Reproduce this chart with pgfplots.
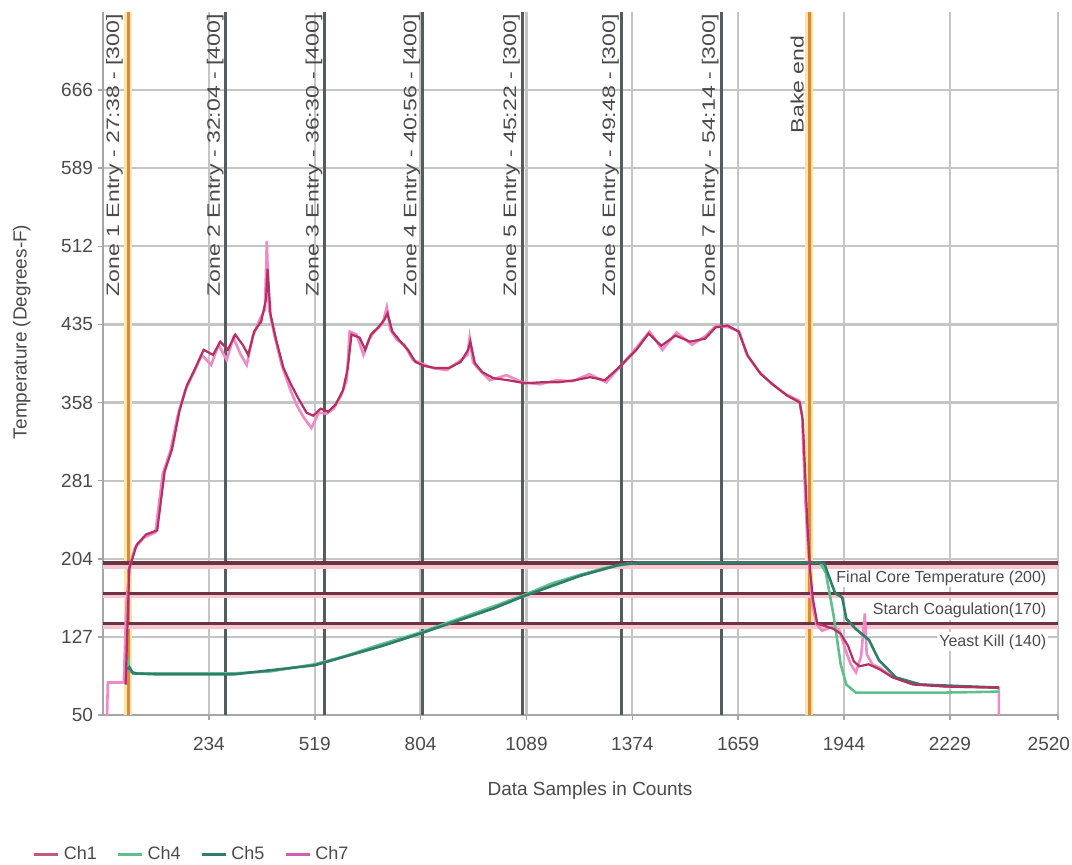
\documentclass[border=0pt]{standalone}
\usepackage{pgfplots}
\pgfplotsset{compat=1.18}
\usepackage{fontspec}
\setmainfont{Liberation Sans}
\definecolor{txt}{HTML}{4A4A4A}
\definecolor{gridc}{HTML}{C4C6C6}
\definecolor{zonec}{HTML}{545D5D}
\definecolor{orangec}{HTML}{DB8A3C}
\definecolor{glowc}{HTML}{FDE5A6}
\definecolor{threshc}{HTML}{6E3343}
\definecolor{threshglow}{HTML}{F6C7CF}
\definecolor{chone}{HTML}{B52F60}
\definecolor{chfour}{HTML}{5FC08C}
\definecolor{chfive}{HTML}{2F7D6A}
\definecolor{chseven}{HTML}{EE8AC6}
\newcommand{\zl}[1]{\scalebox{1.28}[1]{#1}}
\begin{document}
\begin{tikzpicture}
\useasboundingbox (-51.5pt,-75pt) rectangle (484.5pt,357.5pt);
\begin{axis}[
  at={(0pt,0pt)}, anchor=south west,
  scale only axis, width=477.5pt, height=351.5pt,
  xmin=-51, xmax=2520, ymin=50, ymax=743,
  xtick={234,519,804,1089,1374,1659,1944,2229,2520},
  xticklabels={234,519,804,1089,1374,1659,1944,2229,{\makebox[0pt][r]{2520\kern-6pt}}},
  ytick={50,127,204,281,358,435,512,589,666},
  grid=major, grid style={gridc, line width=1.1pt},
  axis x line*=bottom, axis y line*=left,
  axis line style={gray!70, line width=1.2pt, -},
  tick style={gray!70, line width=0.8pt},
  tick align=outside, major tick length=2.5pt,
  ticklabel style={font=\fontsize{9.5}{11}\selectfont, text=txt},
  /pgf/number format/assume math mode=true,
  /pgf/number format/.cd, fixed, 1000 sep={}, /pgfplots/.cd,
  xticklabel style={yshift=-5pt},
  yticklabel style={xshift=1pt},
  xlabel={Data Samples in Counts},
  ylabel={Temperature (Degrees-F)},
  label style={font=\fontsize{9.5}{11}\selectfont, text=txt},
  xlabel style={at={(axis description cs:0.51,-0.107)}, anchor=center},
  ylabel style={at={(axis description cs:-0.085,0.545)}, anchor=center, rotate=0},
  legend style={at={(axis description cs:-0.08,-0.199)}, anchor=west, draw=none, fill=none,
    font=\fontsize{9}{10}\selectfont, text=txt, legend columns=4,
    /tikz/every even column/.append style={column sep=8pt}},
  legend image code/.code={\draw[#1, line width=1.4pt] (0pt,0pt) -- (12pt,0pt);},
  clip=true,
]
% zone lines
\addplot[forget plot, zonec, line width=1.5pt] coordinates {(280,50) (280,743)};
\addplot[forget plot, zonec, line width=1.5pt] coordinates {(546,50) (546,743)};
\addplot[forget plot, zonec, line width=1.5pt] coordinates {(809,50) (809,743)};
\addplot[forget plot, zonec, line width=1.5pt] coordinates {(1078,50) (1078,743)};
\addplot[forget plot, zonec, line width=1.5pt] coordinates {(1344,50) (1344,743)};
\addplot[forget plot, zonec, line width=1.5pt] coordinates {(1613,50) (1613,743)};
% orange lines
\addplot[forget plot, glowc, line width=4pt] coordinates {(17,50) (17,743)};
\addplot[forget plot, orangec, line width=1.5pt] coordinates {(17,50) (17,743)};
\addplot[forget plot, glowc, line width=4pt] coordinates {(1850,50) (1850,743)};
\addplot[forget plot, orangec, line width=1.5pt] coordinates {(1850,50) (1850,743)};
% threshold lines
\addplot[forget plot, threshglow, line width=4pt] coordinates {(-51,198) (2520,198)};
\addplot[forget plot, threshc, line width=2pt] coordinates {(-51,200) (2520,200)};
\addplot[forget plot, threshglow, line width=3pt] coordinates {(-51,168) (2520,168)};
\addplot[forget plot, threshc, line width=1.6pt] coordinates {(-51,170) (2520,170)};
\addplot[forget plot, threshglow, line width=3pt] coordinates {(-51,138) (2520,138)};
\addplot[forget plot, threshc, line width=1.6pt] coordinates {(-51,140) (2520,140)};
% zone labels
\begin{scope}[every node/.style={rotate=90, anchor=south east, inner sep=1pt, text=txt, font=\fontsize{9}{10}\selectfont}]
\node at (axis cs:9,743) {\zl{Zone 1 Entry - 27:38 - [300]}};
\node at (axis cs:280,743) {\zl{Zone 2 Entry - 32:04 - [400]}};
\node at (axis cs:546,743) {\zl{Zone 3 Entry - 36:30 - [400]}};
\node at (axis cs:809,743) {\zl{Zone 4 Entry - 40:56 - [400]}};
\node at (axis cs:1078,743) {\zl{Zone 5 Entry - 45:22 - [300]}};
\node at (axis cs:1344,743) {\zl{Zone 6 Entry - 49:48 - [300]}};
\node at (axis cs:1613,743) {\zl{Zone 7 Entry - 54:14 - [300]}};
\node at (axis cs:1842,722) {\zl{Bake end}};
\end{scope}
\begin{scope}[every node/.style={anchor=east, fill=white, inner sep=1pt, text=txt, font=\fontsize{8}{9}\selectfont}]
\node at (axis cs:2495,185) {Final Core Temperature (200)};
\node at (axis cs:2495,153) {Starch Coagulation(170)};
\node at (axis cs:2495,122) {Yeast Kill (140)};
\end{scope}
% data
\addplot[chseven, line width=1.3pt, forget plot] coordinates {
(-40,50) (-38,82) (5,82) (12,160) (20,195) (35,215) (60,225) (90,230) (110,288) (130,310) (150,345) (170,370) (190,385) (215,405) (240,395) (260,415) (282,400) (300,422) (320,405) (336,395) (352,423) (371,440) (385,450) (390,517) (396,450) (410,425) (430,395) (452,372) (471,355) (490,343) (510,333) (530,348) (551,347) (570,352) (590,365) (605,380) (613,428) (632,425) (650,405) (665,420) (680,428) (702,436) (713,452) (722,430) (740,420) (760,415) (783,400) (810,396) (836,392) (874,390) (909,399) (930,405) (936,422) (945,398) (955,393) (990,380) (1035,385) (1078,378) (1124,376) (1170,380) (1213,379) (1258,386) (1304,378) (1347,396) (1385,412) (1420,428) (1455,410) (1493,427) (1535,415) (1573,424) (1600,434) (1635,432) (1662,428) (1681,406) (1716,388) (1751,376) (1788,366) (1823,360) (1831,345) (1840,260) (1850,200) (1858,160) (1869,140) (1885,133) (1912,137) (1931,134) (1950,112) (1962,100) (1976,92) (1990,108) (2000,150) (2005,110) (2020,100) (2038,97) (2073,88) (2127,81) (2219,78) (2361,77) (2361,50)};
\addplot[chfour, line width=1.3pt, forget plot] coordinates {
(12,97) (17,102) (22,93) (40,91) (100,91) (200,91) (300,91) (400,93) (519,100) (600,108) (700,120) (801,131) (900,144) (1000,157) (1081,168) (1160,180) (1232,188) (1300,195) (1360,199) (1393,200) (1500,200) (1600,200) (1700,200) (1800,200) (1880,200) (1895,190) (1915,150) (1935,100) (1950,80) (1976,72) (2050,72) (2200,72) (2361,73)};
\addplot[chfive, line width=1.3pt, forget plot] coordinates {
(14,95) (20,97) (30,91) (100,90) (300,90) (519,99) (700,118) (801,130) (1000,155) (1081,167) (1232,187) (1339,198) (1393,200) (1890,200) (1900,190) (1920,170) (1939,166) (1950,145) (1975,135) (2011,124) (2038,104) (2084,87) (2150,80) (2361,77)};
\addplot[chone, line width=1.1pt, forget plot] coordinates {
(10,80) (15,140) (20,195) (40,218) (65,228) (95,232) (115,290) (135,312) (155,350) (175,375) (195,390) (220,410) (245,405) (265,418) (285,410) (305,425) (325,415) (340,405) (356,428) (375,438) (388,460) (392,490) (400,445) (415,420) (435,392) (455,376) (475,362) (497,348) (515,345) (535,352) (555,349) (575,356) (595,370) (608,392) (618,425) (640,422) (655,410) (670,425) (690,432) (707,440) (715,446) (728,428) (750,418) (770,410) (790,398) (815,394) (845,392) (880,392) (912,398) (932,410) (938,418) (950,397) (970,388) (1000,382) (1040,380) (1085,377) (1130,378) (1175,378) (1220,380) (1260,383) (1300,380) (1345,395) (1385,410) (1418,426) (1452,414) (1490,424) (1530,418) (1570,421) (1598,432) (1630,434) (1660,428) (1685,404) (1720,386) (1755,375) (1790,365) (1825,358) (1833,340) (1845,240) (1852,195) (1860,165) (1872,140) (1890,138) (1915,135) (1935,130) (1955,118) (1970,103) (1985,98) (2010,100) (2040,95) (2075,87) (2130,80) (2220,78) (2361,77)};
% legend entries
\addlegendimage{chone!80}\addlegendentry{Ch1}
\addlegendimage{chfour}\addlegendentry{Ch4}
\addlegendimage{chfive}\addlegendentry{Ch5}
\addlegendimage{chseven!70!violet}\addlegendentry{Ch7}
\end{axis}
\end{tikzpicture}
\end{document}
